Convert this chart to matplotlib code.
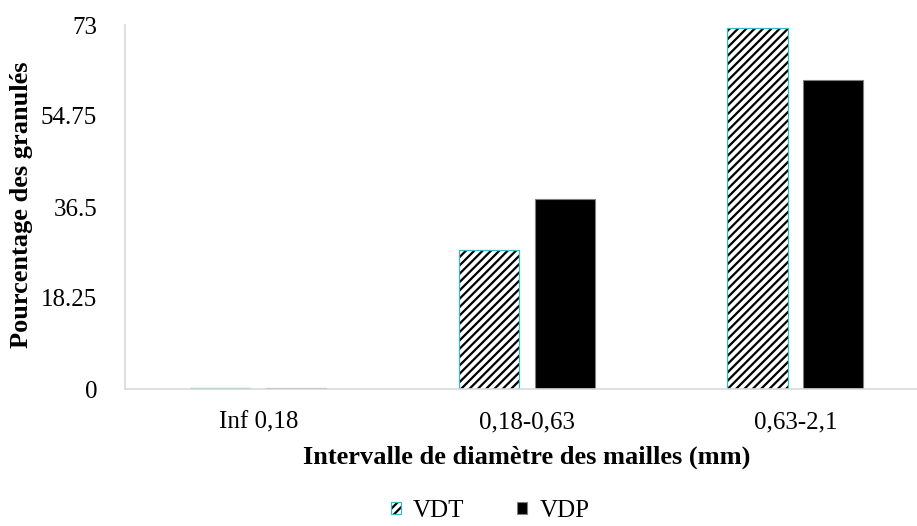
import numpy as np
import matplotlib
matplotlib.use('Agg')
import matplotlib.pyplot as plt
from matplotlib.patches import Patch
from matplotlib.legend_handler import HandlerTuple

categories = ['Inf 0,18', '0,18-0,63', '0,63-2,1']
vdt = [0.2, 27.9, 72.3]
vdp = [0.3, 38.1, 61.9]
yticks = [0, 18.25, 36.5, 54.75, 73]
ytick_labels = ['0', '18.25', '36.5', '54.75', '73']

plt.rcParams['font.family'] = ['Liberation Serif', 'DejaVu Serif']
plt.rcParams['hatch.linewidth'] = 1.6

fig = plt.figure(figsize=(9.17, 5.26), dpi=100)
ax = fig.add_axes([125 / 917, 137 / 526, 792 / 917, 364 / 526])

x = np.arange(len(categories))
width = 0.2235
offset = 0.1415
# hatch drawn in black, then the cyan outline on top
ax.bar(x - offset, vdt, width, facecolor='white', hatch='////',
       edgecolor='black', linewidth=0)
ax.bar(x - offset, vdt, width, facecolor='none',
       edgecolor='#3CB8C0', linewidth=0.9)
ax.bar(x + offset, vdp, width, color='black',
       edgecolor='#7F7F7F', linewidth=0.8)

ax.set_xlim(-0.497, 2.4525)
ax.set_ylim(0, 73)
ax.set_xticks(x)
ax.set_xticklabels(categories)
ax.set_yticks(yticks)
ax.set_yticklabels(ytick_labels)
ax.tick_params(axis='both', length=0, labelsize=18)
ax.tick_params(axis='y', pad=20)
ax.tick_params(axis='x', pad=16)

for side in ['top', 'right']:
    ax.spines[side].set_visible(False)
for side in ['left', 'bottom']:
    ax.spines[side].set_color('#D9D9D9')
    ax.spines[side].set_linewidth(1.2)

# x label is centred on the full plot area (which runs past the right edge)
fig.text(527 / 917, 1 - 457 / 526, 'Intervalle de diamètre des mailles (mm)',
         fontsize=19, fontweight='bold', ha='center', va='center')
fig.text(22 / 917, 1 - 205 / 526, 'Pourcentage des granulés',
         fontsize=19, fontweight='bold', ha='center', va='center', rotation=90)

h_vdt = (Patch(facecolor='white', hatch='////', edgecolor='black', linewidth=0),
         Patch(facecolor='none', edgecolor='#3CB8C0', linewidth=0.9))
h_vdp = Patch(facecolor='black', edgecolor='#7F7F7F', linewidth=0.8)
fig.legend([h_vdt, h_vdp], ['VDT', 'VDP'],
           handler_map={tuple: HandlerTuple(ndivide=1)},
           loc='center', bbox_to_anchor=(490 / 917, 1 - 511 / 526),
           ncol=2, frameon=False, fontsize=18, handlelength=0.4,
           handleheight=0.4, handletextpad=0.5, columnspacing=2.1,
           borderpad=0, borderaxespad=0)

fig.savefig('out.png', dpi=100)
